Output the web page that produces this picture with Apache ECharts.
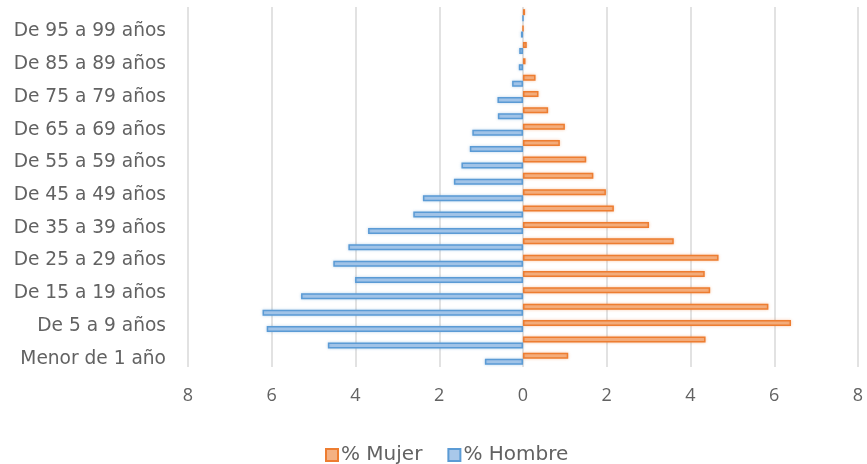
<!DOCTYPE html>
<html>
<head>
<meta charset="utf-8">
<script src="https://cdn.jsdelivr.net/npm/echarts@6/dist/echarts.min.js"></script>
<style>
html,body{margin:0;padding:0;background:#fff;}
#chart{width:867px;height:464px;}
</style>
</head>
<body>
<div id="chart"></div>
<script>
const categorias = ['Menor de 1 año','De 1 a 4 años','De 5 a 9 años','De 10 a 14 años','De 15 a 19 años','De 20 a 24 años','De 25 a 29 años','De 30 a 34 años','De 35 a 39 años','De 40 a 44 años','De 45 a 49 años','De 50 a 54 años','De 55 a 59 años','De 60 a 64 años','De 65 a 69 años','De 70 a 74 años','De 75 a 79 años','De 80 a 84 años','De 85 a 89 años','De 90 a 94 años','De 95 a 99 años','De 100 años y más'];
const mujer = [1.08,4.36,6.40,5.86,4.47,4.34,4.67,3.60,3.01,2.17,1.98,1.68,1.51,0.88,1.00,0.60,0.37,0.30,0.06,0.09,0,0.05];
const hombre = [0.91,4.66,6.12,6.22,5.30,4.01,4.53,4.17,3.70,2.62,2.39,1.65,1.47,1.27,1.21,0.60,0.61,0.26,0.10,0.09,0.05,0];
const ticks = [-8,-6,-4,-2,0,2,4,6,8];

const wideFont = 'DejaVu Sans';
const numFont = 'Open Sans';
const txt = '#626262';
const chart = echarts.init(document.getElementById('chart'), null, {renderer:'canvas'});
chart.setOption({
  animation:false,
  backgroundColor:'#fff',
  grid:{left:188,right:9,top:7,bottom:97,containLabel:false},
  legend:{
    data:['% Mujer','% Hombre'],
    top:440,left:320,
    itemWidth:12,itemHeight:12,itemGap:25,
    textStyle:{color:txt,fontFamily:wideFont,fontSize:20,padding:[0,0,0,-2]},
    icon:'rect'
  },
  xAxis:{
    type:'value',min:ticks[0],max:ticks[ticks.length-1],interval:2,
    axisLine:{show:false},axisTick:{show:false},
    splitLine:{show:true,lineStyle:{color:'#D9D9D9',width:1.5}},
    axisLabel:{color:txt,fontFamily:numFont,fontSize:18,margin:20,formatter:v=>String(Math.abs(v))}
  },
  yAxis:{
    type:'category',data:categorias,
    axisLine:{show:false,onZero:false},axisTick:{show:false},
    axisLabel:{interval:1,color:txt,fontFamily:wideFont,fontSize:18.6,margin:22}
  },
  series:[
    {name:'% Mujer',type:'bar',data:mujer,barWidth:6,barGap:'0%',
     itemStyle:{color:'#F4B183',borderColor:'#ED7D31',borderWidth:1.5,shadowBlur:3,shadowColor:'rgba(237,125,49,0.35)'}},
    {name:'% Hombre',type:'bar',data:hombre.map(v=>-v),barWidth:6,barGap:'0%',
     itemStyle:{color:'#A9C8EA',borderColor:'#5B9BD5',borderWidth:1.5,shadowBlur:3,shadowColor:'rgba(91,155,213,0.35)'}}
  ]
});
</script>
</body>
</html>
